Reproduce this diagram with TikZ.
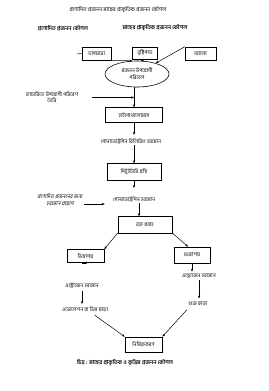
\documentclass[tikz,border=0pt]{standalone}
\usepackage{fontspec}
\setmainfont[Script=Bengali]{Hind Siliguri}
\newfontfamily\bnslant[Script=Bengali,FakeSlant=0.2]{Hind Siliguri}
\usetikzlibrary{shapes.geometric,arrows.meta,positioning}

\begin{document}
\begin{tikzpicture}[
		x=1pt, y=-1pt,
		node distance=14pt,
		box/.style={rectangle, draw, line width=0.6pt, inner sep=1pt, font=\fontsize{5.2}{6}\selectfont},
		env/.style={ellipse, draw, line width=0.6pt, minimum width=64pt, minimum height=26pt, inner sep=0pt, align=center, font=\fontsize{5.2}{7}\selectfont},
		txt/.style={inner sep=1pt, align=center, font=\fontsize{5.2}{6.2}\selectfont},
		head/.style={inner sep=1pt, font=\fontsize{5.5}{6.5}\selectfont\bfseries},
		slant/.style={inner sep=1pt, align=center, font=\fontsize{5.2}{7}\bnslant},
		arrow/.style={-{Stealth[length=3pt, width=2.4pt]}, line width=0.5pt}
		]
		\useasboundingbox (0,0) rectangle (268,391);

		% Headings
		\node[txt, font=\fontsize{5.5}{6.5}\selectfont] (title) at (118,10) {প্রণোদিত প্রজনন মাছের প্রাকৃতিক প্রজনন কৌশল};
		\node[head] (induced) at (63,28) {প্রণোদিত প্রজনন কৌশল};
		\node[head] (natural) at (155,28) {মাছের প্রাকৃতিক প্রজনন কৌশল};

		% Environmental factors
		\node[box, minimum width=29pt, minimum height=13pt] (temp) at (96.5,53.5) {তাপমাত্রা};
		\node[box, minimum width=25pt, minimum height=12pt] (rain) at (145,53) {বৃষ্টিপাত};
		\node[box, minimum width=31pt, minimum height=13pt] (light) at (200.5,53.5) {আলো};
		\coordinate (tempin) at (77,54);

		% Breeding environment
		\node[env] (habitat) at (137,74) {প্রজনন উপযোগী\\পরিবেশ};

		% Hormone chain
		\node[box, minimum width=57pt, minimum height=15pt, below=20pt of habitat, xshift=-3pt] (hypo) {হাইপোথ্যালামাস};
		\node[txt, below=15pt of hypo, xshift=-3pt] (gnrh) {গোনাডোট্রপিন রিলিজিং হরমোন};
		\node[box, minimum width=54pt, minimum height=17pt, below=18pt of gnrh, xshift=3pt] (pit) {পিটুইটারি গ্রন্থি};
		\node[txt, below=15pt of pit] (gth) {গোনাডোট্রপিন হরমোন};
		\node[box, minimum width=54pt, minimum height=17pt, below=13pt of gth, xshift=11pt] (blood) {রক্ত প্রবাহ};

		% Side inputs
		\node[txt] (hatchery) at (52,97.5) {হ্যাচারিতে উপযোগী পরিবেশ\\তৈরি};
		\node[slant] (hormone) at (60,200) {প্রণোদিত প্রজননের জন্য\\হরমোন প্রয়োগ};

		% Gonads
		\node[box, minimum width=37pt, minimum height=13pt] (ovary) at (85.5,256) {ডিম্বাশয়};
		\node[box, minimum width=36pt, minimum height=16pt] (testis) at (192,255) {শুক্রাশয়};
		\node[txt] (estro) at (82,286) {এস্ট্রোজেন হরমোন};
		\node[txt] (ovul) at (85,310) {ওভোলেশন বা ডিম ছাড়া};
		\node[txt] (andro) at (199,276) {এন্ড্রোজেন হরমোন};
		\node[txt] (sperm) at (198,304) {শুক্র ছাড়া};

		% Fertilisation
		\node[box, minimum width=37pt, minimum height=15pt] (fert) at (143.5,344.5) {নিষিক্তকরণ};
		\node[head] (caption) at (125,363) {চিত্র : মাছের প্রাকৃতিক ও কৃত্রিম প্রজনন কৌশল};

		% Arrows into environment
		\draw[line width=0.5pt] (tempin) -- (temp.west);
		\draw[arrow] (temp.south east) -- (habitat.110);
		\draw[arrow] (rain.south) -- (habitat.74);
		\draw[arrow] (light.north west) -- (habitat.30);

		% Arrows down the chain
		\draw[arrow] (hypo.north |- habitat.south) -- (hypo.north);
		\draw[arrow] ([xshift=13pt]hatchery.east) -- (hypo.north |- hatchery.east);
		\draw[arrow, shorten >=3pt] (hypo) -- (hypo.south |- gnrh.north);
		\draw[arrow] (pit.north |- gnrh.south) -- (pit);
		\draw[arrow, shorten >=8pt] (pit) -- (pit.south |- gth.north);
		\draw[arrow, shorten >=7pt] ([yshift=-4pt]hormone.east) -- ([yshift=-4pt]hormone.east -| gth.west);
		\draw[arrow] ([xshift=5pt]gth.south) -- ([xshift=5pt]gth.south |- blood.north);

		% Arrows to gonads
		\draw[arrow] ([yshift=1pt]blood.south west) -- (ovary.north east);
		\draw[arrow] ([yshift=1pt]blood.south east) -- ([xshift=-4pt]testis.north);

		% Arrows to hormones and release
		\draw[arrow, shorten >=2pt] (ovary) -- (ovary.south -| estro.north);
		\draw[arrow, shorten <=1pt, shorten >=2pt] (estro) -- (estro.south |- ovul.north);
		\draw[arrow, shorten >=1pt] (testis) -- (testis.south |- andro.north);
		\draw[arrow, shorten <=1pt, shorten >=2pt] (andro) -- (andro.south |- sperm.north);

		% Arrows to fertilisation
		\draw[arrow, shorten <=2pt] ([xshift=8pt]ovul.south) -- (fert.north west);
		\draw[arrow, shorten <=3pt] ([xshift=-9pt]sperm.south) -- (fert.north east);

	\end{tikzpicture}
\end{document}
